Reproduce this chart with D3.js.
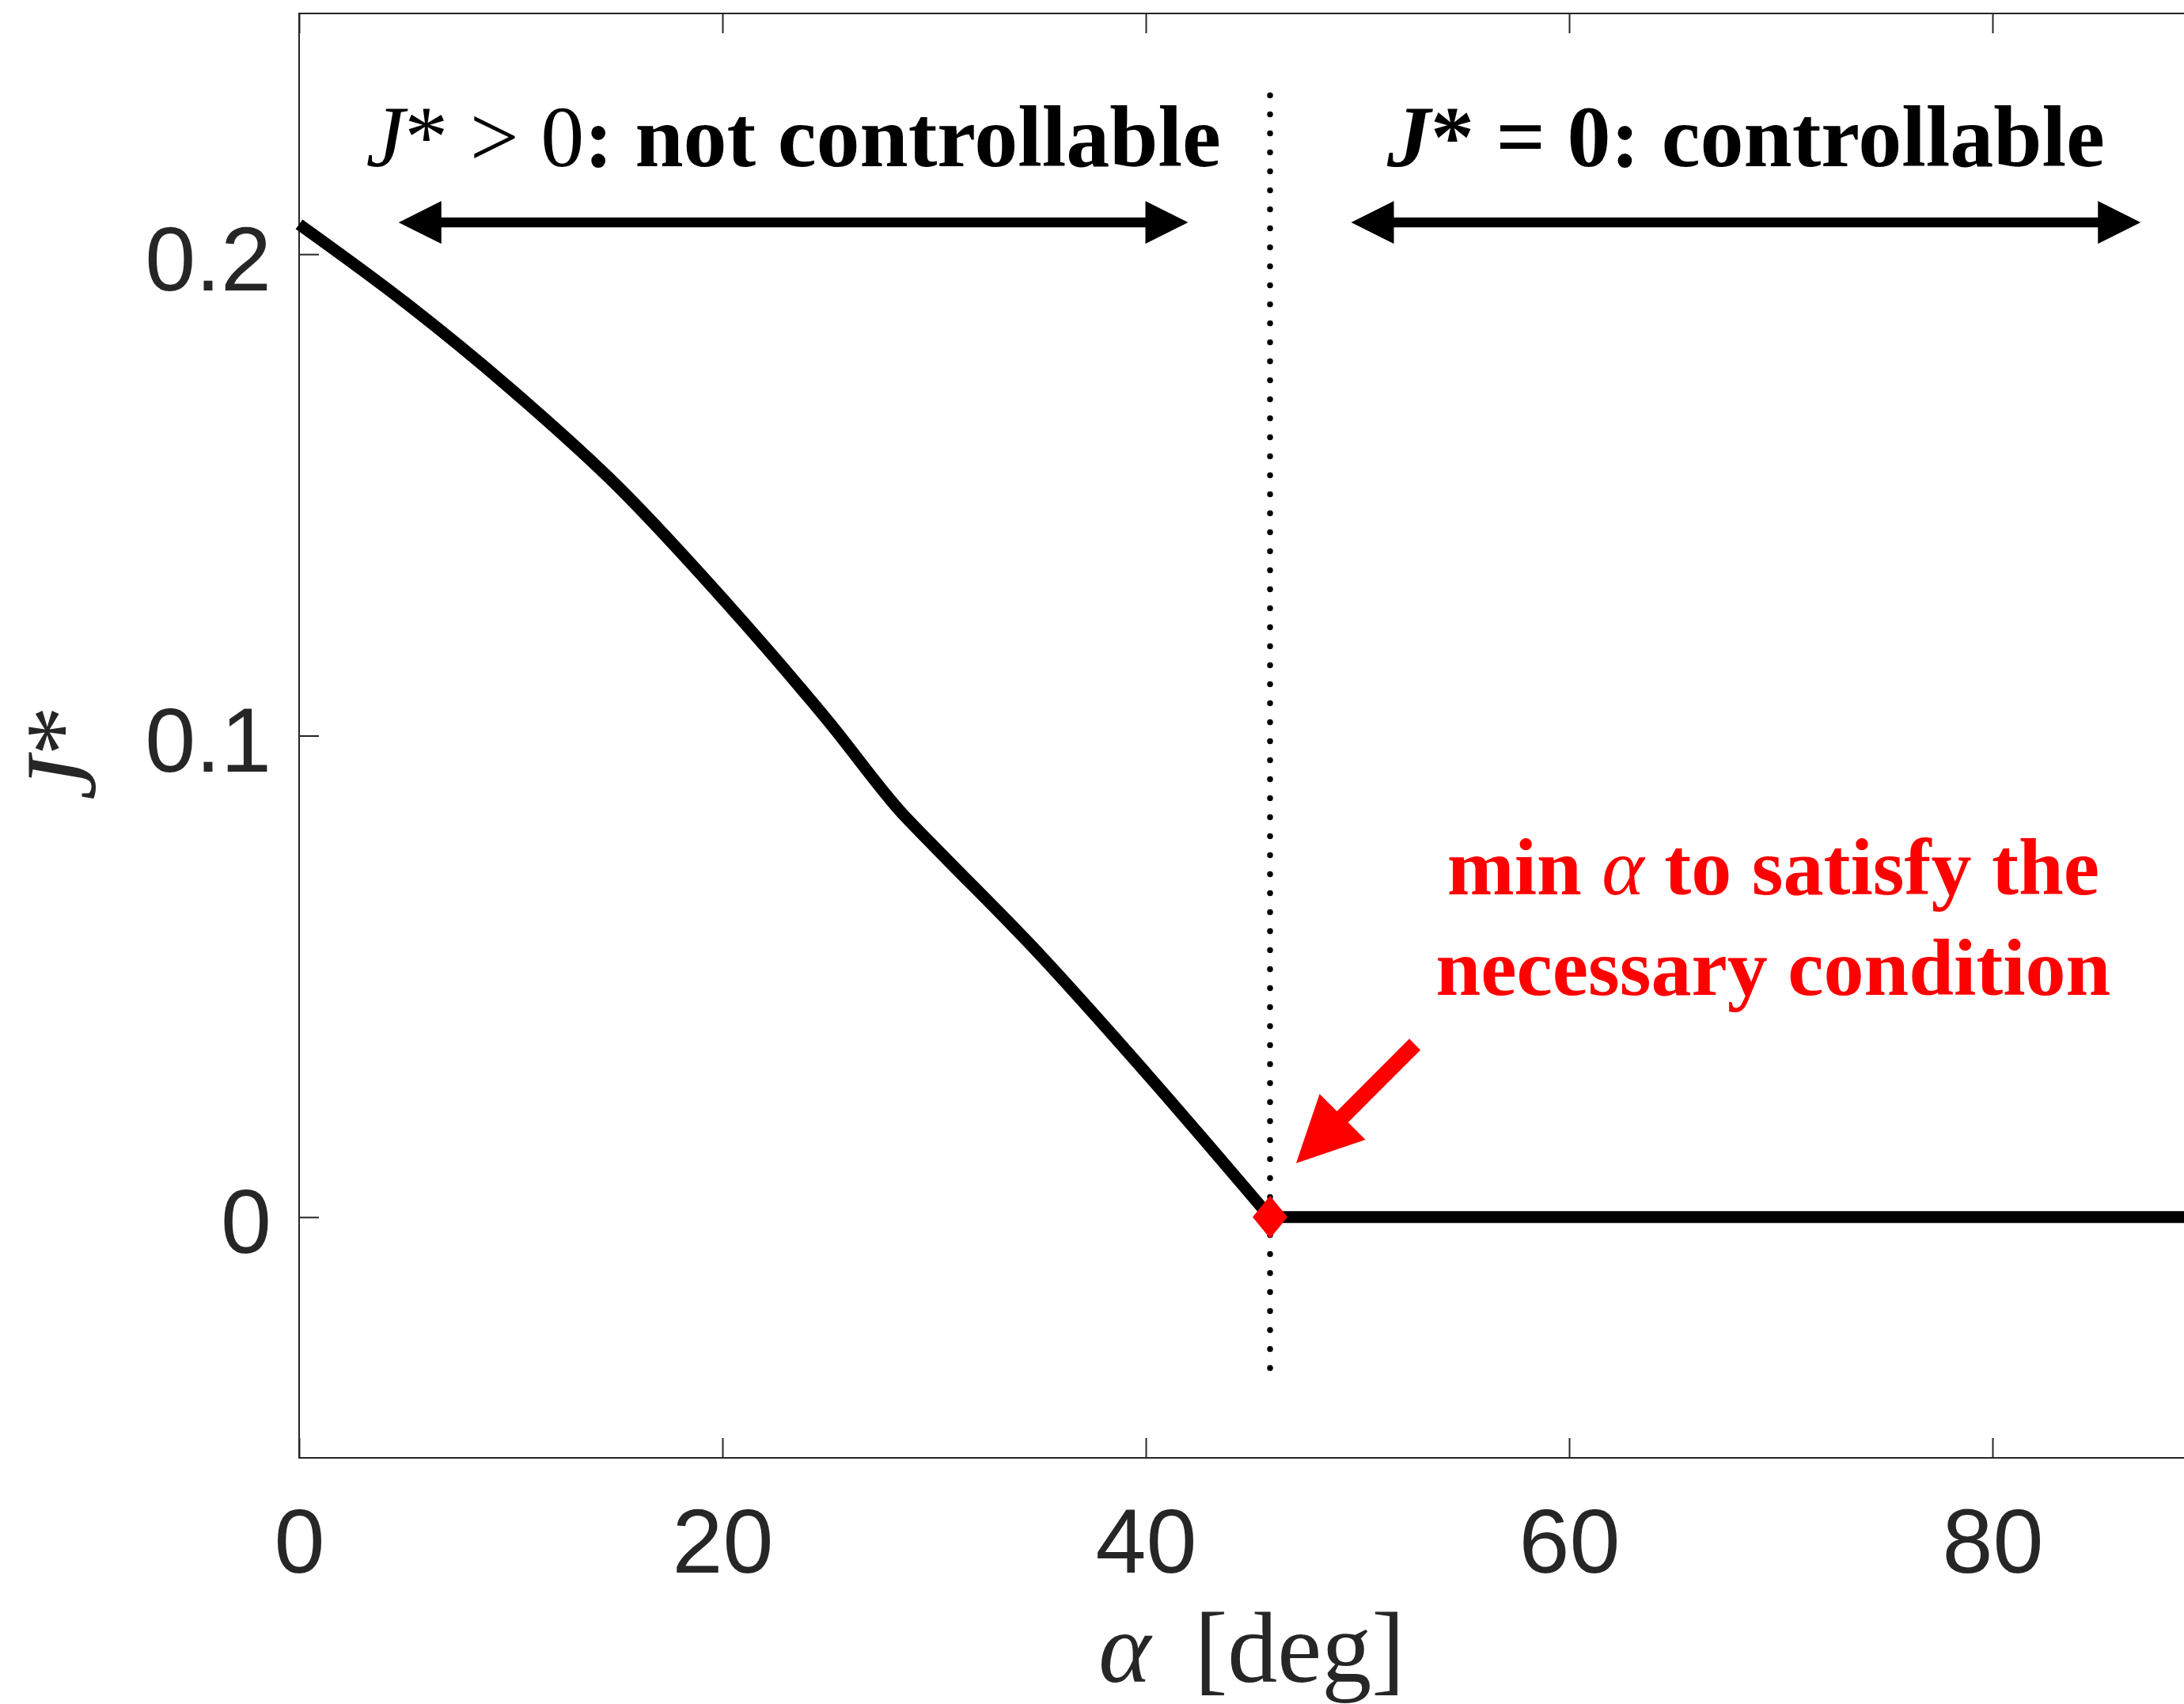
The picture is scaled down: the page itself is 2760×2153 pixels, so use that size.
<!DOCTYPE html>
<html>
<head>
<meta charset="utf-8">
<script src="https://cdn.jsdelivr.net/npm/d3@7"></script>
<style>
  html, body { margin: 0; padding: 0; background: #ffffff; }
  svg { display: block; }
</style>
</head>
<body>
<svg id="chart"></svg>
<script>
// Optimal cost J* versus angle alpha
const alphaDeg = [0, 5, 10, 15, 20, 25, 28.5, 30, 35, 40, 45.87, 50, 60, 70, 80, 90];
const jStar    = [0.2062, 0.1900, 0.1720, 0.1520, 0.1285, 0.1030, 0.0838, 0.0770, 0.0545, 0.0300, 0, 0, 0, 0, 0, 0];

const alphaMin = 45.87;              // smallest alpha with J* = 0
const xTicks = [0, 20, 40, 60, 80];
const yTicks = [0, 0.1, 0.2];
const yTickLabels = ["0", "0.1", "0.2"];

// region annotations (data units)
const regionSpans = [[4.7, 42.0], [49.7, 87.0]];
const regionArrowJ = 0.2066;
const regionTextJ = 0.2183;
const boundaryLineJ = [0.233, -0.0316];
const noteLinesJ = [0.0671, 0.0461];
const noteCenterAlpha = 69.64;
const noteArrowFrom = [52.71, 0.03586];
const noteArrowTo = [47.10, 0.01118];

const W = 2760, H = 2153;
const margin = { left: 378, top: 17, right: 0, bottom: 311 };
const plotW = 2407.5;   // width of the axes box (right edge falls outside the page)
const plotH = H - margin.top - margin.bottom;

const svg = d3.select("#chart").attr("width", W).attr("height", H);

const x = d3.scaleLinear().domain([0, 90]).range([margin.left, margin.left + plotW]);
const y = d3.scaleLinear().domain([-0.05, 0.25]).range([margin.top + plotH, margin.top]);

const axisColor = "#262626";
const tickLen = 25;

// axes box
svg.append("rect")
  .attr("x", x(0)).attr("y", y(0.25))
  .attr("width", x(90) - x(0)).attr("height", y(-0.05) - y(0.25))
  .attr("fill", "none").attr("stroke", axisColor).attr("stroke-width", 2);

// x axis (ticks point inward, mirrored on top)
const xAxis = d3.axisBottom(x).tickValues(xTicks).tickSize(-tickLen).tickPadding(0).tickFormat(d3.format("d"));
const gx = svg.append("g").attr("transform", `translate(0,${y(-0.05)})`).call(xAxis);
gx.select(".domain").remove();
gx.selectAll(".tick line").attr("stroke", axisColor).attr("stroke-width", 2);
gx.selectAll(".tick text")
  .attr("fill", axisColor).attr("font-family", "'Liberation Sans', Arial, Helvetica, sans-serif")
  .attr("font-size", 115).attr("y", 145).attr("dy", 0);

const xTop = d3.axisTop(x).tickValues(xTicks).tickSize(-tickLen).tickFormat("");
const gxt = svg.append("g").attr("transform", `translate(0,${y(0.25)})`).call(xTop);
gxt.select(".domain").remove();
gxt.selectAll(".tick line").attr("stroke", axisColor).attr("stroke-width", 2);

const yAxis = d3.axisLeft(y).tickValues(yTicks).tickSize(-tickLen).tickPadding(0)
  .tickFormat((d, i) => yTickLabels[i]);
const gy = svg.append("g").attr("transform", `translate(${x(0)},0)`).call(yAxis);
gy.select(".domain").remove();
gy.selectAll(".tick line").attr("stroke", axisColor).attr("stroke-width", 2);
gy.selectAll(".tick text")
  .attr("fill", axisColor).attr("font-family", "'Liberation Sans', Arial, Helvetica, sans-serif")
  .attr("font-size", 115).attr("x", -35).attr("dy", "0.39em");

// axis labels
const serif = "'Liberation Serif', 'Times New Roman', Times, serif";
const xl = svg.append("text")
  .attr("x", x(45)).attr("y", 2125)
  .attr("text-anchor", "middle").attr("font-family", serif).attr("font-size", 126).attr("fill", axisColor);
xl.append("tspan").attr("font-style", "italic").text("α");
xl.append("tspan").attr("dx", 55).text("[deg]");

const yl = svg.append("text")
  .attr("transform", `translate(120,${(y(-0.05) + y(0.25)) / 2 + 22}) rotate(-90)`)
  .attr("text-anchor", "middle").attr("font-family", serif).attr("font-size", 126).attr("fill", axisColor);
yl.append("tspan").attr("font-style", "italic").text("J");
yl.append("tspan").text("*");

// curve
const pts = alphaDeg.map((a, i) => [a, jStar[i]]);
const line = d3.line().x(d => x(d[0])).y(d => y(d[1]));
svg.append("path")
  .datum(pts.filter(d => d[0] <= alphaMin))
  .attr("d", line.curve(d3.curveMonotoneX))
  .attr("fill", "none").attr("stroke", "#000").attr("stroke-width", 15).attr("stroke-linejoin", "round");
const flat = pts.filter(d => d[0] >= alphaMin);
svg.append("path")
  .attr("d", d3.line().x(d => x(d[0])).y(d => y(d[1]))(flat))
  .attr("fill", "none").attr("stroke", "#000").attr("stroke-width", 15);

// dotted boundary at alphaMin
svg.append("line")
  .attr("x1", x(alphaMin)).attr("x2", x(alphaMin))
  .attr("y1", y(boundaryLineJ[0])).attr("y2", y(boundaryLineJ[1]))
  .attr("stroke", "#000").attr("stroke-width", 7.5)
  .attr("stroke-linecap", "round").attr("stroke-dasharray", "0 24");

// red diamond marker at the threshold
const mx = x(alphaMin), my = y(0);
svg.append("path")
  .attr("d", `M${mx},${my - 27}L${mx + 22},${my}L${mx},${my + 27}L${mx - 22},${my}Z`)
  .attr("fill", "#ff0000");

// arrow polygon helpers
function arrowHead(x0, y0, x1, y1, len, width) {
  const dx = x1 - x0, dy = y1 - y0, L = Math.hypot(dx, dy);
  const ux = dx / L, uy = dy / L, nx = -uy, ny = ux;
  const bx = x1 - ux * len, by = y1 - uy * len;
  return `M${x1},${y1}L${bx + nx * width / 2},${by + ny * width / 2}L${bx - nx * width / 2},${by - ny * width / 2}Z`;
}

// double-headed region arrows
regionSpans.forEach(([a0, a1]) => {
  const x0 = x(a0), x1 = x(a1), yy = y(regionArrowJ);
  svg.append("line").attr("x1", x0 + 50).attr("x2", x1 - 50).attr("y1", yy).attr("y2", yy)
    .attr("stroke", "#000").attr("stroke-width", 12.5);
  svg.append("path").attr("d", arrowHead(x1, yy, x0, yy, 54, 54)).attr("fill", "#000");
  svg.append("path").attr("d", arrowHead(x0, yy, x1, yy, 54, 54)).attr("fill", "#000");
});

// region labels
const t1 = svg.append("text")
  .attr("x", x((regionSpans[0][0] + regionSpans[0][1]) / 2)).attr("y", y(regionTextJ))
  .attr("text-anchor", "middle").attr("font-family", serif).attr("font-size", 110).attr("fill", "#000");
t1.append("tspan").attr("font-style", "italic").text("J");
t1.append("tspan").text("* > 0");
t1.append("tspan").attr("font-weight", "bold").text(": not controllable");

const t2 = svg.append("text")
  .attr("x", x((regionSpans[1][0] + regionSpans[1][1]) / 2)).attr("y", y(regionTextJ))
  .attr("text-anchor", "middle").attr("font-family", serif).attr("font-size", 110)
  .attr("font-weight", "bold").attr("fill", "#000");
t2.append("tspan").attr("font-style", "italic").text("J");
t2.append("tspan").text("* = 0: controllable");

// red note
const n1 = svg.append("text")
  .attr("x", x(noteCenterAlpha)).attr("y", y(noteLinesJ[0]))
  .attr("text-anchor", "middle").attr("font-family", serif).attr("font-size", 102)
  .attr("font-weight", "bold").attr("fill", "#ff0000");
n1.append("tspan").text("min ");
n1.append("tspan").attr("font-style", "italic").attr("font-weight", "normal").text("α");
n1.append("tspan").text(" to satisfy the");
svg.append("text")
  .attr("x", x(noteCenterAlpha)).attr("y", y(noteLinesJ[1]))
  .attr("text-anchor", "middle").attr("font-family", serif).attr("font-size", 102)
  .attr("font-weight", "bold").attr("fill", "#ff0000")
  .text("necessary condition");

// red pointer arrow
{
  const x0 = x(noteArrowFrom[0]), y0 = y(noteArrowFrom[1]);
  const x1 = x(noteArrowTo[0]), y1 = y(noteArrowTo[1]);
  const L = Math.hypot(x1 - x0, y1 - y0);
  const ex = x1 - (x1 - x0) / L * 80, ey = y1 - (y1 - y0) / L * 80;
  svg.append("line").attr("x1", x0).attr("y1", y0).attr("x2", ex).attr("y2", ey)
    .attr("stroke", "#ff0000").attr("stroke-width", 20);
  svg.append("path").attr("d", arrowHead(x0, y0, x1, y1, 83, 82)).attr("fill", "#ff0000");
}
</script>
</body>
</html>
